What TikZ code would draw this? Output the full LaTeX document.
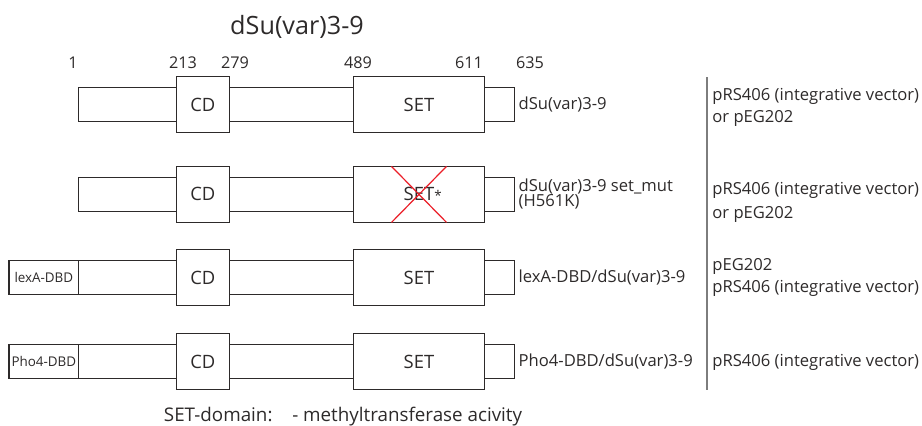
\documentclass[tikz,border=0pt]{standalone}
\usepackage{fontspec}
\setmainfont{Open Sans}
\usetikzlibrary{positioning}
\definecolor{protline}{RGB}{45,42,42}
\definecolor{protred}{RGB}{235,30,40}
\definecolor{sepgrey}{RGB}{125,125,125}
\newcommand\titlesize{\fontsize{12.6}{15}\selectfont}
\newcommand\domsize{\fontsize{9.2}{11}\selectfont}
\newcommand\lblsize{\fontsize{8.3}{7.5}\selectfont\lineskiplimit=-10pt}
\newcommand\notesize{\fontsize{9.4}{11}\selectfont}
\newcommand\numsize{\fontsize{8.1}{10}\selectfont}
\newcommand\tagsize{\fontsize{6.7}{8}\selectfont}
\tikzset{
  protbar/.style={
    draw=protline,
    line width=0.75pt,
    fill=white,
    inner sep=0pt,
    outer sep=0pt,
    minimum height=17pt,
    anchor=west
  },
  domainbox/.style={protbar, anchor=center, minimum height=28pt, font=\domsize},
  dbdbox/.style={protbar, font=\tagsize, minimum width=34.85pt},
  constr/.style={anchor=west, align=left, inner sep=0pt, font=\lblsize},
  vector/.style={anchor=west, align=left, inner sep=0pt, font=\lblsize},
  numlbl/.style={font=\numsize, inner sep=0pt},
  mutx/.style={draw=protred, line width=0.6pt}
}

\begin{document}
\begin{tikzpicture}[x=0.5pt,y=-0.5pt,every node/.style={text=protline}]
  \useasboundingbox (0,0) rectangle (922,425);
  \node[font=\titlesize] (title) at (297,27) {dSu(var)3-9};
  \foreach \x/\n in {73/1,183/213,235/279,358/489,469/611,530/635}{
    \node[numlbl] (pos\n) at (\x,63) {\n};
  }
  % constructs
  \foreach \r/\y/\settext in {1/104.7/SET,2/194.4/{SET\rlap{\tagsize*}},3/277.5/SET,4/361.5/SET}{
    \node[protbar,minimum width=217.8pt] (bar\r) at (78.7,\y) {};
    \node[domainbox,minimum width=26.5pt] (cd\r) at (202.8,\y) {CD};
    \node[domainbox,minimum width=65.5pt] (set\r) at (419,\y) {\settext};
  }
  \node[dbdbox,left=0pt of bar3] (lexa) {lexA-DBD};
  \node[dbdbox,left=0pt of bar4] (pho) {Pho4-DBD};
  \draw[mutx] ([xshift=-13.75pt]set2.north) -- ([xshift=13.75pt]set2.south);
  \draw[mutx] ([xshift=13.75pt]set2.north) -- ([xshift=-13.75pt]set2.south);
  \node[constr,right=2pt of bar1] (name1) {dSu(var)3-9};
  \node[constr,right=2pt of bar2] (name2) {dSu(var)3-9 set\_mut\\(H561K)};
  \node[constr,right=2pt of bar3] (name3) {lexA-DBD/dSu(var)3-9};
  \node[constr,right=2pt of bar4] (name4) {Pho4-DBD/dSu(var)3-9};
  % vectors
  \coordinate (septop) at (707,77);
  \coordinate (sepbot) at (707,390);
  \draw[sepgrey,line width=0.6pt] (septop) -- (sepbot);
  \node[vector] (vec1) at (712,107) {pRS406 (integrative vector)\\[3.5pt]or pEG202};
  \node[vector] (vec2) at (712,202) {pRS406 (integrative vector)\\[4.5pt]or pEG202};
  \node[vector] (vec3) at (712,277.5) {pEG202\\[3.3pt]pRS406 (integrative vector)};
  \node[vector] (vec4) at (712,362) {pRS406 (integrative vector)};
  \node[font=\notesize] (setnote) at (343,417) {SET-domain:\hspace{1.05em}- methyltransferase acivity};
\end{tikzpicture}
\end{document}
